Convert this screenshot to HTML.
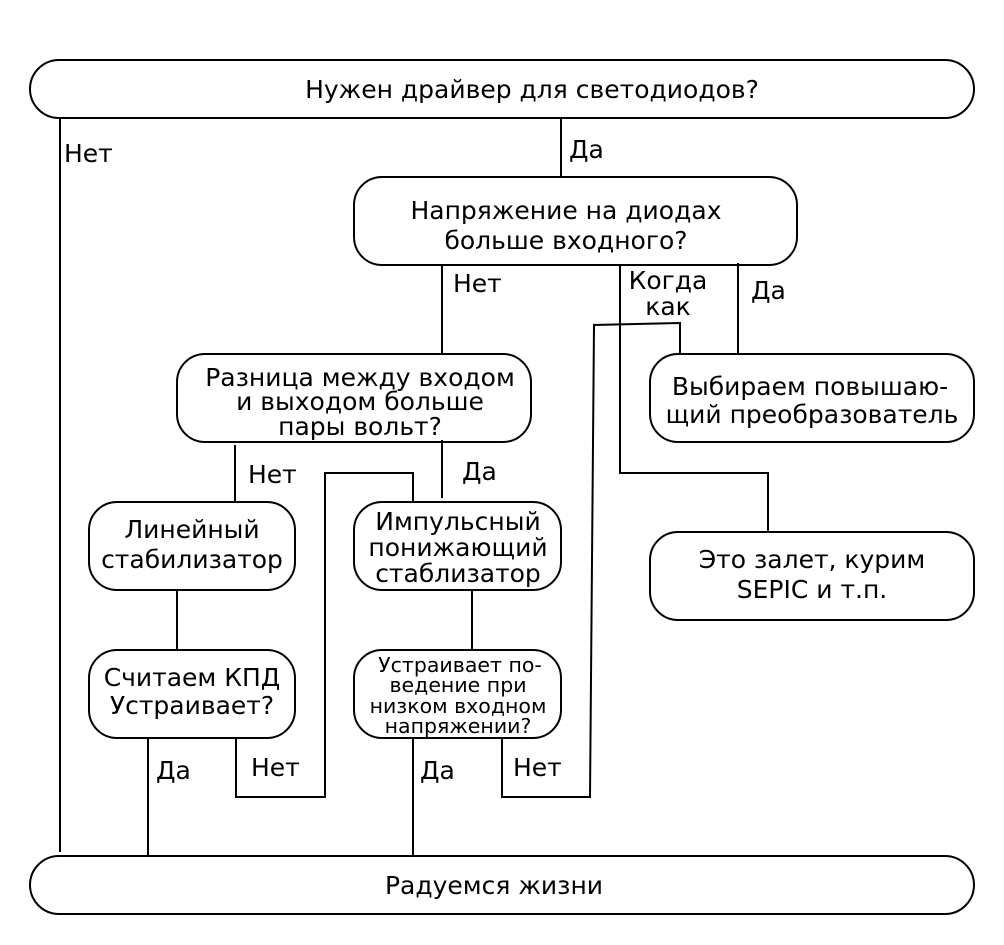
<!DOCTYPE html>
<html><head><meta charset="utf-8"><style>
html,body{margin:0;padding:0;background:#fff;}
svg{display:block;}
text{font-family:"DejaVu Sans","Liberation Sans",sans-serif;fill:#000;}
.b text{font-size:25px;}
.s text{font-size:20.5px;}
</style></head><body>
<svg width="1004" height="945" viewBox="0 0 1004 945" xmlns="http://www.w3.org/2000/svg">
<g fill="none" stroke="#000" stroke-width="2">
<rect x="30" y="60" width="944" height="58" rx="29"/>
<rect x="354" y="177" width="443" height="88" rx="28"/>
<rect x="177" y="354" width="354" height="88" rx="28"/>
<rect x="650" y="354" width="324" height="88" rx="28"/>
<rect x="89" y="502" width="206" height="88" rx="28"/>
<rect x="354" y="502" width="207" height="88" rx="28"/>
<rect x="650" y="532" width="324" height="88" rx="28"/>
<rect x="89" y="650" width="206" height="88" rx="28"/>
<rect x="354" y="650" width="207" height="88" rx="28"/>
<rect x="30" y="856" width="944" height="58" rx="29"/>
<path d="M60 118V852"/>
<path d="M561 118V177"/>
<path d="M442 265V354"/>
<path d="M620 265V473H768V532"/>
<path d="M738 263V354"/>
<path d="M680 354V323L594 325L590 797L502 797V738"/>
<path d="M235 445V502"/>
<path d="M442 440V498"/>
<path d="M413 502V473H325V797H236V738"/>
<path d="M177 590V650"/>
<path d="M472 590V650"/>
<path d="M148 738V856"/>
<path d="M413 738V856"/>
</g>
<g class="b">
<text x="532" y="98" text-anchor="middle">Нужен драйвер для светодиодов?</text>
<text x="566" y="219" text-anchor="middle">Напряжение на диодах</text>
<text x="566" y="249" text-anchor="middle">больше входного?</text>
<text x="360" y="386" text-anchor="middle">Разница между входом</text>
<text x="360" y="410" text-anchor="middle">и выходом больше</text>
<text x="360" y="435" text-anchor="middle">пары вольт?</text>
<text x="810" y="395" text-anchor="middle">Выбираем повышаю-</text>
<text x="812" y="423" text-anchor="middle">щий преобразователь</text>
<text x="192" y="538" text-anchor="middle">Линейный</text>
<text x="192" y="568" text-anchor="middle">стабилизатор</text>
<text x="458" y="530" text-anchor="middle">Импульсный</text>
<text x="458" y="556" text-anchor="middle">понижающий</text>
<text x="458" y="582" text-anchor="middle">стаблизатор</text>
<text x="812" y="568" text-anchor="middle">Это залет, курим</text>
<text x="812" y="598" text-anchor="middle">SEPIC и т.п.</text>
<text x="192" y="686" text-anchor="middle">Считаем КПД</text>
<text x="192" y="714" text-anchor="middle">Устраивает?</text>
<text x="494" y="894" text-anchor="middle">Радуемся жизни</text>
<text x="64" y="162">Нет</text>
<text x="569" y="158">Да</text>
<text x="453" y="292">Нет</text>
<text x="668" y="289" text-anchor="middle">Когда</text>
<text x="668" y="315" text-anchor="middle">как</text>
<text x="751" y="299">Да</text>
<text x="248" y="483">Нет</text>
<text x="462" y="480">Да</text>
<text x="251" y="776">Нет</text>
<text x="156" y="779">Да</text>
<text x="420" y="779">Да</text>
<text x="513" y="776">Нет</text>
</g>
<g class="s">
<text x="460" y="672" text-anchor="middle">Устраивает по-</text>
<text x="458" y="692" text-anchor="middle">ведение при</text>
<text x="458" y="713" text-anchor="middle">низком входном</text>
<text x="458" y="733" text-anchor="middle">напряжении?</text>
</g>
</svg>
</body></html>
